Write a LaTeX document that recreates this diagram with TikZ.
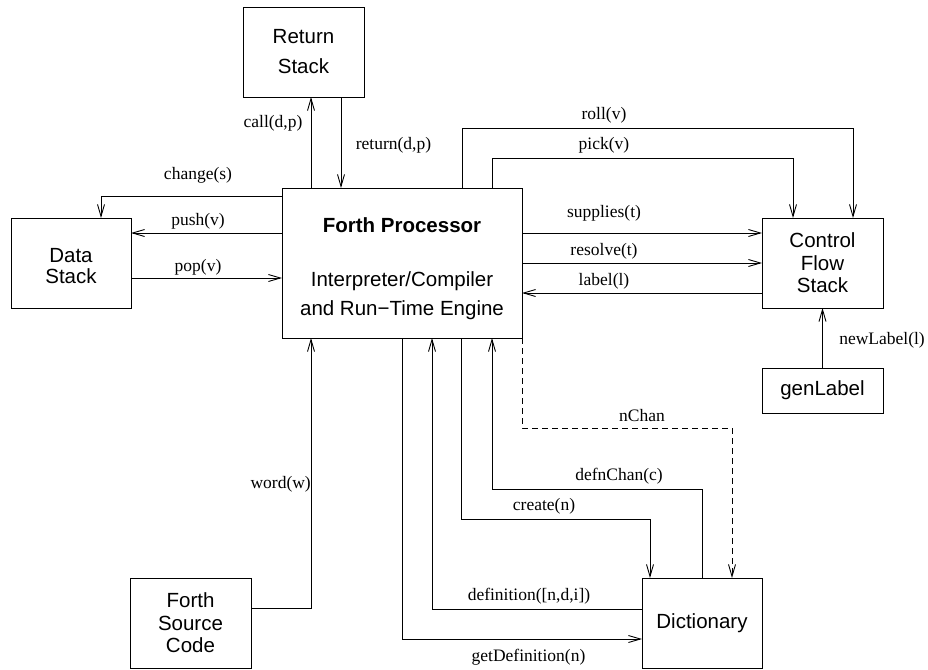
\documentclass[tikz,border=0pt]{standalone}
\usepackage{fontspec}
\setmainfont{Liberation Serif}
\newfontfamily\boxfont{Liberation Sans}
\usetikzlibrary{arrows.meta}
\begin{document}
\begin{tikzpicture}[x=1pt,y=-1pt,
  box/.style={draw, line width=0.9pt, inner sep=0pt, outer sep=0pt, anchor=north west,
    align=center, font=\boxfont\fontsize{20.5}{21}\selectfont},
  arr/.style={line width=0.9pt, -{Straight Barb[length=12pt,width=7pt]}},
  dsh/.style={dash pattern=on 6pt off 4pt},
  lbl/.style={inner sep=0pt, font=\fontsize{17.5}{20}\selectfont}]
\useasboundingbox (0,0) rectangle (928,669);

% boxes
\node[box, minimum width=121pt, minimum height=90pt] (rs) at (243,7) {Return\\[9pt]Stack};
\node[box, minimum width=120pt, minimum height=90pt] (ds) at (11,218) {\rule{0pt}{20.5pt}Data\\Stack};
\node[box, minimum width=240pt, minimum height=150pt] (fp) at (282,188)
  {\rule{0pt}{25.3pt}\textbf{Forth Processor}\\[33pt]Interpreter/Compiler\\[8pt]and Run−Time Engine};
\node[box, minimum width=121pt, minimum height=90pt] (cfs) at (762,218) {Control\\[1.5pt]Flow\\[1.5pt]Stack};
\node[box, minimum width=121pt, minimum height=45pt] (gl) at (762,368) {genLabel};
\node[box, minimum width=121pt, minimum height=90pt] (fsc) at (130,578) {Forth\\[1.5pt]Source\\[1.5pt]Code};
\node[box, minimum width=120pt, minimum height=90pt] (dict) at (642,578) {Dictionary};

% return stack
\draw[arr] (311,0 |- fp.north) -- (311,0 |- rs.south);
\draw[arr] (341,0 |- rs.south) -- (341,0 |- fp.north);
\node[lbl] (lcall) at (273,123.5) {call(d,p)};
\node[lbl] (lret) at (393.5,145.5) {return(d,p)};

% data stack
\draw[arr] (fp.west |- 0,196) -| (101,0 |- ds.north);
\draw[arr] (fp.west |- 0,233) -- (ds.east |- 0,233);
\draw[arr] (ds.east |- 0,278) -- (fp.west |- 0,278);
\node[lbl] (lchg) at (198,175) {change(s)};
\node[lbl] (lpush) at (198,221.5) {push(v)};
\node[lbl] (lpop) at (198,267) {pop(v)};

% control flow stack
\draw[arr] (462,0 |- fp.north) |- (853,128) -- (853,0 |- cfs.north);
\draw[arr] (492,0 |- fp.north) |- (793,158) -- (793,0 |- cfs.north);
\draw[arr] (fp.east |- 0,233) -- (cfs.west |- 0,233);
\draw[arr] (fp.east |- 0,263) -- (cfs.west |- 0,263);
\draw[arr] (cfs.west |- 0,293) -- (fp.east |- 0,293);
\draw[arr] (gl.north) -- (cfs.south);
\node[lbl] (lroll) at (604,115) {roll(v)};
\node[lbl] (lpick) at (604,145.5) {pick(v)};
\node[lbl] (lsup) at (604,213.3) {supplies(t)};
\node[lbl] (lres) at (604,251) {resolve(t)};
\node[lbl] (llab) at (604,281) {label(l)};
\node[lbl] (lnew) at (882,340) {newLabel(l)};

% source code
\draw[arr] (fsc.east |- 0,608) -| (311,0 |- fp.south);
\node[lbl, anchor=east] (lword) at (311,484) {word(w)};

% dictionary
\draw[arr] (402,0 |- fp.south) |- (dict.west |- 0,639);
\draw[arr] (dict.west |- 0,609) -| (432,0 |- fp.south);
\draw[arr] (461,0 |- fp.south) |- (650,519) -- (650,0 |- dict.north);
\draw[arr] (702,0 |- dict.north) |- (492,489) -- (492,0 |- fp.south);
\draw[arr, dsh] (fp.south east) |- (732,428) -- (732,0 |- dict.north);
\node[lbl] (lget) at (528.5,657) {getDefinition(n)};
\node[lbl] (ldef) at (529,596) {definition([n,d,i])};
\node[lbl] (lcre) at (544,506) {create(n)};
\node[lbl] (ldch) at (619,476) {defnChan(c)};
\node[lbl] (lnch) at (642,416) {nChan};
\end{tikzpicture}
\end{document}
